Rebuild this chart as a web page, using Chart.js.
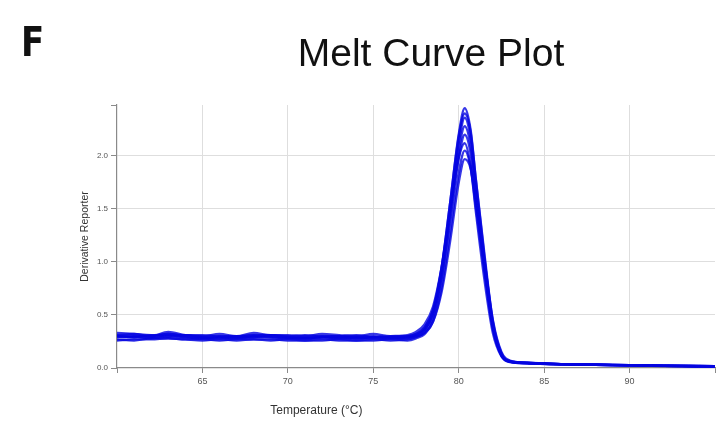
<!DOCTYPE html>
<html>
<head>
<meta charset="utf-8">
<script src="https://cdn.jsdelivr.net/npm/chart.js@4/dist/chart.umd.min.js"></script>
<style>
  html, body { margin: 0; padding: 0; background: #fff; }
  #wrap { width: 720px; height: 422px; }
</style>
</head>
<body>
<div id="wrap"><canvas id="meltChart" width="720" height="422"></canvas></div>
<script>
// temperature points (°C) shared by all wells
const temps = [60, 61, 62, 63, 64, 65, 66, 67, 68, 69, 70, 71, 72, 73, 74, 75, 76, 77,
    77.5, 78, 78.5, 79, 79.5, 80, 80.35, 80.7, 81, 81.5, 82, 82.5, 83, 84, 85, 86, 88, 90, 92, 95];

// derivative reporter per well
const wellA = [0.31, 0.30, 0.30, 0.32, 0.30, 0.29, 0.30, 0.29, 0.31, 0.30, 0.29, 0.29, 0.30, 0.29, 0.29, 0.30, 0.29, 0.30,
    0.32, 0.38, 0.54, 0.94, 1.56, 2.20, 2.45, 2.24, 1.78, 1.05, 0.42, 0.13, 0.065, 0.05, 0.042, 0.037, 0.032, 0.027, 0.022, 0.017];
const wellB = [0.29, 0.30, 0.28, 0.30, 0.31, 0.29, 0.28, 0.30, 0.29, 0.31, 0.29, 0.28, 0.29, 0.30, 0.28, 0.29, 0.29, 0.28,
    0.30, 0.36, 0.52, 0.90, 1.50, 2.12, 2.36, 2.16, 1.71, 1.01, 0.40, 0.12, 0.06, 0.048, 0.04, 0.036, 0.03, 0.026, 0.021, 0.016];
const wellC = [0.27, 0.26, 0.28, 0.28, 0.27, 0.26, 0.27, 0.26, 0.27, 0.27, 0.26, 0.26, 0.27, 0.26, 0.26, 0.27, 0.26, 0.27,
    0.29, 0.34, 0.48, 0.86, 1.44, 2.05, 2.28, 2.09, 1.66, 0.98, 0.39, 0.12, 0.06, 0.046, 0.04, 0.035, 0.03, 0.025, 0.02, 0.015];
const wellD = [0.30, 0.29, 0.29, 0.31, 0.29, 0.28, 0.29, 0.28, 0.30, 0.29, 0.28, 0.28, 0.29, 0.28, 0.28, 0.29, 0.28, 0.29,
    0.31, 0.36, 0.50, 0.85, 1.40, 1.98, 2.20, 2.02, 1.60, 0.95, 0.38, 0.12, 0.06, 0.045, 0.04, 0.035, 0.03, 0.025, 0.02, 0.015];
const wellE = [0.33, 0.32, 0.31, 0.32, 0.31, 0.31, 0.30, 0.30, 0.31, 0.31, 0.30, 0.31, 0.30, 0.30, 0.31, 0.29, 0.30, 0.31,
    0.34, 0.41, 0.58, 0.95, 1.48, 1.98, 2.12, 1.90, 1.48, 0.84, 0.33, 0.11, 0.055, 0.044, 0.038, 0.034, 0.029, 0.024, 0.019, 0.014];
const wellF = [0.26, 0.27, 0.27, 0.28, 0.27, 0.27, 0.26, 0.27, 0.27, 0.26, 0.27, 0.26, 0.26, 0.27, 0.26, 0.26, 0.27, 0.26,
    0.28, 0.32, 0.44, 0.76, 1.28, 1.84, 2.05, 1.89, 1.52, 0.91, 0.37, 0.12, 0.058, 0.045, 0.039, 0.035, 0.03, 0.025, 0.02, 0.015];
const wellG = [0.30, 0.29, 0.31, 0.30, 0.29, 0.28, 0.29, 0.28, 0.29, 0.29, 0.28, 0.28, 0.29, 0.28, 0.29, 0.28, 0.28, 0.29,
    0.30, 0.33, 0.44, 0.72, 1.20, 1.75, 1.97, 1.88, 1.58, 1.02, 0.45, 0.15, 0.07, 0.05, 0.042, 0.037, 0.032, 0.027, 0.022, 0.017];
const wellH = [0.31, 0.32, 0.30, 0.34, 0.31, 0.30, 0.32, 0.30, 0.33, 0.31, 0.31, 0.30, 0.32, 0.31, 0.30, 0.32, 0.30, 0.30,
    0.32, 0.38, 0.55, 0.95, 1.56, 2.18, 2.40, 2.22, 1.78, 1.08, 0.44, 0.14, 0.065, 0.05, 0.042, 0.037, 0.032, 0.027, 0.022, 0.017];

const wells = [wellA, wellB, wellC, wellD, wellE, wellF, wellG, wellH];

const xTicks = [60, 65, 70, 75, 80, 85, 90, 95];
const yTicks = [0, 0.5, 1.0, 1.5, 2.0];

// titles and the panel letter, drawn on top of the chart
const textPlugin = {
    id: 'texts',
    afterDraw(chart) {
        const c = chart.ctx;
        const area = chart.chartArea;
        c.save();
        c.fillStyle = '#111';
        c.textBaseline = 'alphabetic';

        // panel letter
        c.save();
        c.translate(21, 56);
        c.scale(0.85, 1);
        c.font = 'bold 40px "DejaVu Sans", "Liberation Sans", sans-serif';
        c.textAlign = 'left';
        c.fillText('F', 0, 0);
        c.restore();

        c.font = '39px "Liberation Sans", Arial, sans-serif';
        c.textAlign = 'center';
        c.fillText('Melt Curve Plot', 431, 66);

        c.fillStyle = '#333';
        c.font = '12px "Liberation Sans", Arial, sans-serif';
        c.fillText('Temperature (°C)', area.left + area.width / 3, 414);

        c.save();
        c.translate(85, (area.top + area.bottom) / 2);
        c.rotate(-Math.PI / 2);
        c.font = '10.5px "Liberation Sans", Arial, sans-serif';
        c.textBaseline = 'middle';
        c.fillText('Derivative Reporter', 0, 0);
        c.restore();

        c.restore();
    }
};

const ctx = document.getElementById('meltChart').getContext('2d');
const myChart = new Chart(ctx, {
    type: 'line',
    data: {
        datasets: wells.map((w, i) => ({
            label: 'Well ' + (i + 1),
            data: temps.map((t, j) => ({ x: t, y: w[j] })),
            borderColor: 'rgba(5, 5, 225, 0.8)',
            borderWidth: 2.4,
            pointRadius: 0,
            cubicInterpolationMode: 'monotone',
            fill: false
        }))
    },
    options: {
        responsive: false,
        animation: false,
        layout: { padding: { top: 105, right: 5, left: 0, bottom: 0 } },
        plugins: {
            legend: { display: false },
            tooltip: { enabled: false }
        },
        scales: {
            x: {
                type: 'linear',
                min: 60,
                max: 95,
                afterBuildTicks: (s) => { s.ticks = xTicks.map(v => ({ value: v })); },
                afterFit: (s) => { s.height = 54; },
                border: { color: '#8a8a8a', width: 1.2 },
                grid: {
                    color: (c) => (c.tick && (c.tick.value === 95 || c.tick.value === 60)) ? 'rgba(0,0,0,0)' : '#dedede',
                    tickColor: '#8a8a8a',
                    tickLength: 5
                },
                ticks: {
                    color: '#555',
                    font: { family: '"Liberation Sans", Arial, sans-serif', size: 9 },
                    maxRotation: 0,
                    padding: 3,
                    callback: (v) => (v === 60 || v === 95) ? '' : String(v)
                }
            },
            y: {
                min: 0,
                max: 2.48,
                afterBuildTicks: (s) => { s.ticks = yTicks.concat([2.48]).map(v => ({ value: v })); },
                afterFit: (s) => { s.width = 117; },
                border: { color: '#8a8a8a', width: 1.2 },
                grid: {
                    color: (c) => (c.tick && (c.tick.value > 2.2 || c.tick.value === 0)) ? 'rgba(0,0,0,0)' : '#dedede',
                    tickColor: '#8a8a8a',
                    tickLength: 6
                },
                ticks: {
                    color: '#555',
                    font: { family: '"Liberation Sans", Arial, sans-serif', size: 8 },
                    padding: 3,
                    callback: (v) => v > 2.2 ? '' : v.toFixed(1)
                }
            }
        }
    },
    plugins: [textPlugin]
});
</script>
</body>
</html>
